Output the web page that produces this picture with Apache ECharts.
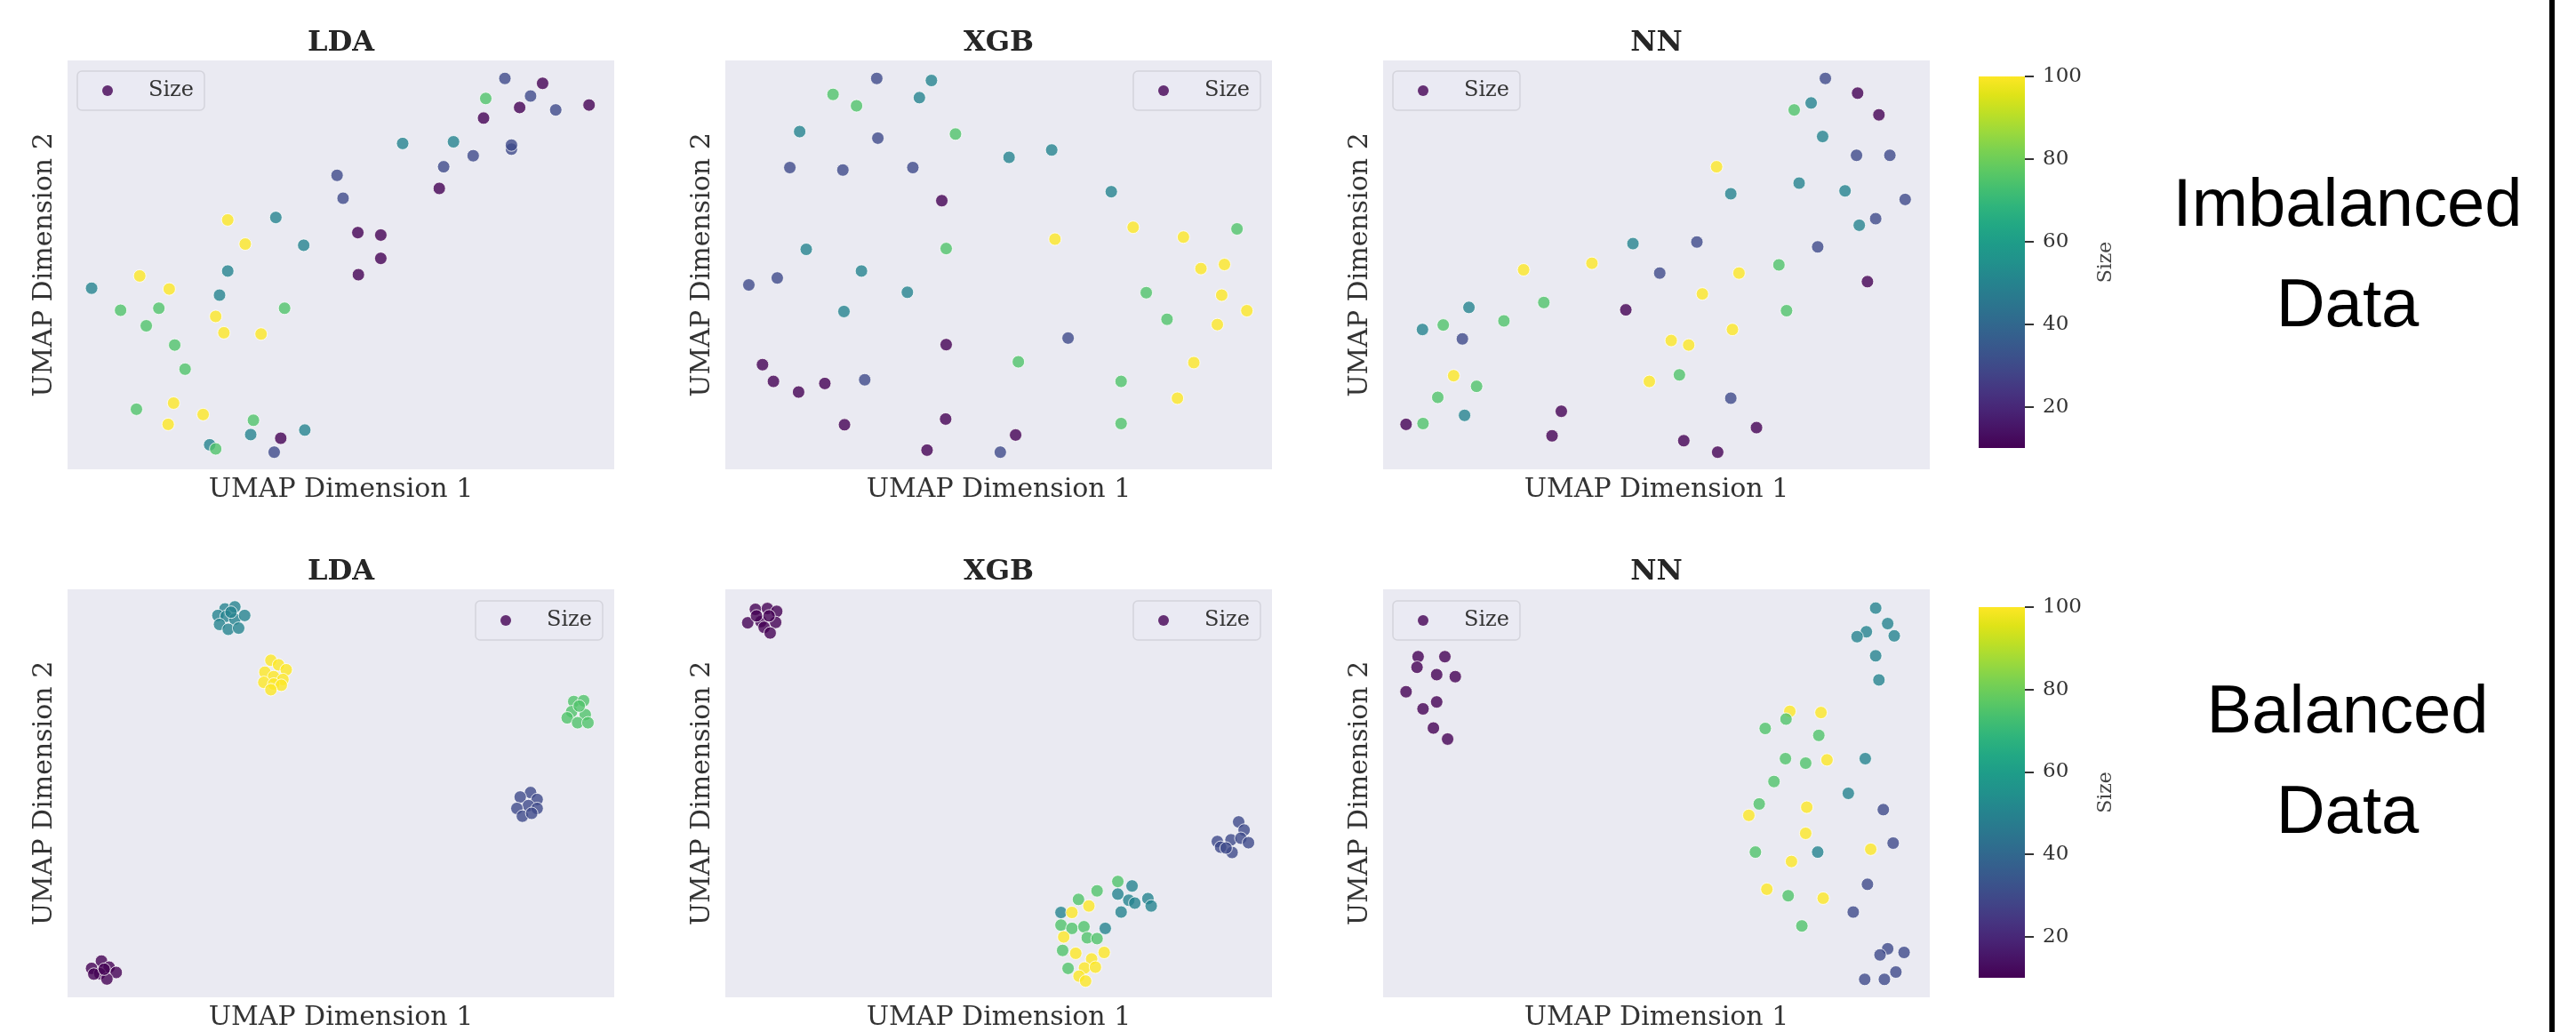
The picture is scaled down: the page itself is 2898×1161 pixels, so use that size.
<!DOCTYPE html>
<html>
<head>
<meta charset="utf-8">
<title>UMAP projections - Imbalanced vs Balanced data</title>
<script src="https://cdn.jsdelivr.net/npm/echarts@6/dist/echarts.min.js"></script>
<style>
  html, body { margin: 0; padding: 0; background: #fff; }
  #chart { width: 2898px; height: 1161px; }
</style>
</head>
<body>
<div id="chart"></div>
<script>
// panel titles, row labels and colorbar ticks
const panelNames = ['LDA', 'XGB', 'NN'];
const rowLabels = ['Imbalanced\nData', 'Balanced\nData'];
const sizeTicks = [20, 40, 60, 80, 100];
const sizeMin = 10;
const sizeMax = 100;
const viridis = ['#440154', '#471365', '#482475', '#463480', '#414487', '#3b528b', '#355f8d',
  '#2f6c8e', '#2a788e', '#25848e', '#21918c', '#1e9c89', '#22a884', '#2fb47c', '#44bf70',
  '#5ec962', '#7ad151', '#9bd93c', '#bddf26', '#dfe318', '#fde725'];

// [UMAP 1, UMAP 2, Size] (axes have no ticks, so 0-100 = panel extent)
const imbalancedLDA = [
  [80.0, 95.6, 30], [86.9, 94.4, 10], [76.5, 90.7, 75], [84.7, 91.3, 30], [82.7, 88.5, 10],
  [89.3, 87.9, 30], [95.4, 89.1, 10], [76.1, 85.9, 10], [61.3, 79.7, 50], [70.6, 80.1, 50],
  [81.2, 78.3, 30], [81.2, 79.3, 30], [74.2, 76.7, 30], [68.8, 74.0, 30], [68.0, 68.7, 10],
  [49.3, 71.9, 30], [50.4, 66.3, 30], [53.1, 57.9, 10], [57.3, 57.3, 10], [57.3, 51.6, 10],
  [53.2, 47.6, 10], [29.3, 61.0, 100], [38.1, 61.6, 50], [32.5, 55.1, 100], [43.2, 54.8, 50],
  [29.3, 48.5, 50], [13.2, 47.3, 100], [4.4, 44.3, 50], [18.6, 44.1, 100], [27.8, 42.6, 50],
  [9.7, 38.9, 75], [16.7, 39.4, 75], [39.7, 39.4, 75], [27.1, 37.4, 100], [14.4, 35.1, 75],
  [28.6, 33.4, 100], [35.4, 33.1, 100], [19.6, 30.4, 75], [21.5, 24.5, 75], [12.6, 14.7, 75],
  [19.4, 16.2, 100], [24.8, 13.4, 100], [18.4, 11.0, 100], [34.0, 12.0, 75], [43.4, 9.6, 50],
  [33.5, 8.5, 50], [39.0, 7.6, 10], [26.0, 6.0, 50], [27.1, 5.0, 75], [37.8, 4.2, 30]
];
const imbalancedXGB = [
  [27.7, 95.6, 30], [37.7, 95.1, 50], [19.7, 91.7, 75], [35.5, 90.9, 50], [24.0, 88.9, 75],
  [13.6, 82.6, 50], [27.9, 81.0, 30], [42.1, 82.0, 75], [11.8, 73.8, 30], [21.5, 73.2, 30],
  [34.3, 73.8, 30], [51.9, 76.3, 50], [59.7, 78.1, 50], [39.6, 65.7, 10], [70.6, 67.9, 50],
  [74.6, 59.2, 100], [60.3, 56.3, 100], [83.8, 56.8, 100], [93.6, 58.8, 75], [14.8, 53.8, 50],
  [40.4, 54.0, 75], [87.0, 49.1, 100], [91.3, 50.1, 100], [24.9, 48.5, 50], [4.3, 45.1, 30],
  [9.5, 46.8, 30], [33.3, 43.3, 50], [77.0, 43.2, 75], [90.8, 42.6, 100], [21.7, 38.6, 50],
  [80.8, 36.7, 75], [95.4, 38.8, 100], [90.0, 35.4, 100], [62.7, 32.1, 30], [40.4, 30.5, 10],
  [53.6, 26.3, 75], [6.8, 25.6, 10], [85.7, 26.1, 100], [8.8, 21.5, 10], [13.4, 18.9, 10],
  [18.2, 21.0, 10], [25.5, 21.9, 30], [72.4, 21.5, 75], [82.7, 17.4, 100], [21.8, 10.9, 10],
  [40.3, 12.3, 10], [72.4, 11.2, 75], [53.1, 8.4, 10], [36.9, 4.7, 10], [50.3, 4.2, 30]
];
const imbalancedNN = [
  [80.9, 95.6, 30], [86.8, 92.0, 10], [78.3, 89.6, 50], [75.2, 87.9, 75], [90.7, 86.7, 10],
  [80.4, 81.4, 50], [86.6, 76.8, 30], [92.7, 76.8, 30], [61.0, 74.0, 100], [63.6, 67.4, 50],
  [76.1, 70.0, 50], [84.5, 68.1, 50], [95.5, 66.0, 30], [90.1, 61.3, 30], [87.1, 59.7, 50],
  [45.7, 55.2, 50], [57.4, 55.6, 30], [79.5, 54.4, 30], [25.7, 48.8, 100], [38.2, 50.4, 100],
  [50.6, 48.0, 30], [65.1, 48.0, 100], [72.4, 50.0, 75], [88.6, 45.9, 10], [58.4, 42.9, 100],
  [29.4, 40.8, 75], [44.4, 39.0, 10], [73.8, 38.8, 75], [15.7, 39.6, 50], [22.1, 36.3, 75],
  [11.0, 35.3, 75], [7.2, 34.2, 50], [14.5, 31.9, 30], [63.9, 34.2, 100], [52.7, 31.5, 100],
  [55.9, 30.4, 100], [12.9, 22.9, 100], [54.2, 23.1, 75], [48.7, 21.5, 100], [17.1, 20.3, 75],
  [10.0, 17.6, 75], [63.6, 17.4, 30], [32.6, 14.2, 10], [14.9, 13.2, 50], [4.2, 11.0, 10],
  [7.3, 11.2, 75], [30.9, 8.2, 10], [68.3, 10.2, 10], [55.0, 7.0, 10], [61.2, 4.2, 10]
];
const balancedLDA = [
  [28.8, 95.2, 50], [30.6, 95.7, 50], [27.5, 93.6, 50], [29.0, 93.4, 50], [30.6, 92.7, 50],
  [32.4, 93.6, 50], [27.8, 91.4, 50], [29.4, 90.2, 50], [31.3, 90.5, 50], [29.9, 94.4, 50],
  [37.2, 82.6, 100], [38.6, 81.5, 100], [40.0, 80.3, 100], [36.1, 79.7, 100], [37.7, 78.6, 100],
  [39.4, 77.9, 100], [35.9, 77.2, 100], [37.7, 76.8, 100], [39.1, 76.5, 100], [37.2, 75.4, 100],
  [92.6, 72.5, 75], [94.4, 72.7, 75], [92.2, 70.0, 75], [94.7, 69.3, 75], [91.4, 68.5, 75],
  [93.3, 67.3, 75], [95.2, 67.3, 75], [93.6, 71.4, 75],
  [84.7, 50.2, 30], [82.8, 49.1, 30], [85.9, 48.5, 30], [84.3, 47.0, 30], [82.2, 46.3, 30],
  [85.9, 46.3, 30], [83.2, 44.4, 30], [84.9, 45.1, 30],
  [6.2, 8.9, 10], [4.4, 7.1, 10], [7.6, 7.4, 10], [5.9, 5.8, 10], [8.9, 6.1, 10],
  [7.2, 4.5, 10], [4.8, 5.7, 10], [6.7, 6.9, 10]
];
const balancedXGB = [
  [5.5, 95.1, 10], [7.7, 95.3, 10], [9.4, 94.6, 10], [4.1, 91.8, 10], [6.5, 92.1, 10],
  [9.2, 91.9, 10], [7.1, 90.7, 10], [8.2, 89.3, 10], [5.7, 93.5, 10], [8.0, 93.5, 10],
  [93.9, 43.0, 30], [94.9, 41.0, 30], [92.5, 38.6, 30], [94.3, 39.0, 30], [95.7, 37.9, 30],
  [90.0, 38.2, 30], [90.6, 36.8, 30], [92.7, 35.5, 30], [91.6, 36.6, 30],
  [71.8, 28.4, 75], [68.0, 26.1, 75], [74.4, 27.3, 50], [71.8, 25.3, 50], [73.8, 23.8, 50],
  [74.9, 23.1, 50], [77.3, 24.2, 50], [77.9, 22.4, 50], [72.4, 20.9, 50], [64.6, 24.0, 75],
  [66.5, 22.4, 100], [61.4, 20.8, 50], [63.4, 20.8, 100], [61.4, 17.7, 75], [63.4, 16.9, 75],
  [65.6, 17.3, 75], [69.5, 16.9, 50], [61.9, 14.8, 100], [66.2, 14.6, 75], [68.0, 14.4, 75],
  [61.7, 11.5, 75], [64.1, 10.8, 100], [69.3, 11.0, 100], [67.0, 9.4, 100], [62.7, 7.1, 75],
  [65.7, 7.2, 100], [67.7, 7.4, 100], [64.7, 5.2, 100], [65.9, 4.0, 100]
];
const balancedNN = [
  [6.4, 83.5, 10], [11.3, 83.5, 10], [6.2, 80.9, 10], [9.8, 79.1, 10], [13.2, 78.6, 10],
  [4.2, 74.9, 10], [9.8, 72.4, 10], [7.3, 70.7, 10], [9.2, 66.0, 10], [11.8, 63.3, 10],
  [90.1, 95.4, 50], [92.3, 91.6, 50], [88.4, 89.6, 50], [86.7, 88.4, 50], [93.5, 88.6, 50],
  [90.1, 83.7, 50], [90.7, 77.8, 50], [74.4, 70.1, 100], [80.1, 69.8, 100], [73.7, 68.2, 75],
  [69.9, 65.9, 75], [79.7, 64.2, 75], [73.6, 58.5, 75], [77.3, 57.4, 75], [81.2, 58.2, 100],
  [88.2, 58.5, 50], [71.5, 52.9, 75], [85.1, 50.0, 50], [68.8, 47.4, 75], [77.5, 46.6, 100],
  [66.9, 44.6, 100], [91.5, 46.0, 30], [77.3, 40.2, 100], [93.3, 37.8, 30], [68.1, 35.6, 75],
  [79.5, 35.6, 50], [89.2, 36.3, 100], [74.7, 33.3, 100], [88.6, 27.7, 30], [70.2, 26.5, 100],
  [74.1, 24.9, 75], [80.5, 24.3, 100], [86.0, 20.9, 30], [76.6, 17.5, 75], [92.3, 11.9, 30],
  [90.9, 10.4, 30], [95.3, 11.0, 30], [93.8, 6.2, 30], [91.7, 4.4, 30], [88.1, 4.4, 30]
];

const panelData = [
  [imbalancedLDA, imbalancedXGB, imbalancedNN],
  [balancedLDA, balancedXGB, balancedNN]
];

// layout (px)
const panelLeft = [76, 816, 1556];
const panelWidth = 615;
const rowTop = [68, 663];
const rowHeight = [460, 462];
const titleTop = [33, 628];
const legendTop = [80, 676];
// legend box left per [row][col] (top-left or top-right corner of the panel)
const legendLeft = [[87, 1275, 1567], [535, 1275, 1567]];
const cbarLeft = 2226;
const cbarWidth = 52;
const cbarTop = [86, 683];
const cbarHeight = [418, 417];
const rowLabelTop = [177, 747];

const serif = 'DejaVu Serif';
const textDark = '#262626';
const textGrey = '#333333';

const grid = [];
const xAxis = [];
const yAxis = [];
const series = [];
const title = [];
const legend = [];
const graphic = [];

for (let r = 0; r < 2; r++) {
  for (let c = 0; c < 3; c++) {
    const k = r * 3 + c;
    grid.push({
      left: panelLeft[c], top: rowTop[r], width: panelWidth, height: rowHeight[r],
      show: true, backgroundColor: '#EAEAF2', borderWidth: 0
    });
    xAxis.push({
      gridIndex: k, type: 'value', min: 0, max: 100,
      axisLine: { show: false }, axisTick: { show: false }, axisLabel: { show: false },
      splitLine: { show: false },
      name: 'UMAP Dimension 1', nameLocation: 'middle', nameGap: 8,
      nameTextStyle: { fontFamily: serif, fontSize: 30, color: textGrey }
    });
    yAxis.push({
      gridIndex: k, type: 'value', min: 0, max: 100,
      axisLine: { show: false }, axisTick: { show: false }, axisLabel: { show: false },
      splitLine: { show: false },
      name: 'UMAP Dimension 2', nameLocation: 'middle', nameGap: 11,
      nameTextStyle: { fontFamily: serif, fontSize: 30, color: textGrey }
    });
    series.push({
      type: 'scatter', name: 'Size', xAxisIndex: k, yAxisIndex: k,
      data: panelData[r][c], symbolSize: 14,
      itemStyle: { borderColor: '#ffffff', borderWidth: 1 }
    });
    title.push({
      text: panelNames[c], left: panelLeft[c] + panelWidth / 2, top: titleTop[r],
      textAlign: 'center', padding: 0,
      textStyle: { fontFamily: serif, fontWeight: 'bold', fontSize: 32, color: textDark }
    });
    legend.push({
      left: legendLeft[r][c], top: legendTop[r], orient: 'vertical',
      selectedMode: false,
      backgroundColor: 'rgba(234,234,242,0.8)', borderColor: '#d4d4dc', borderWidth: 1.5,
      borderRadius: 5, padding: [10, 12, 10, 28],
      itemWidth: 14, itemHeight: 12,
      textStyle: { fontFamily: serif, fontSize: 24, color: textGrey, padding: [0, 0, 0, 34] },
      data: [{ name: 'Size', icon: 'circle', itemStyle: { color: '#440154', borderWidth: 0 } }]
    });
  }
}

// colorbars: gradient strip + tick axis on its right edge (one per row)
const cbarGradient = viridis.map((color, i) => ({ offset: i / (viridis.length - 1), color }));
for (let r = 0; r < 2; r++) {
  const k = 6 + r;
  grid.push({ left: cbarLeft, top: cbarTop[r], width: cbarWidth, height: cbarHeight[r], show: false });
  xAxis.push({ gridIndex: k, type: 'value', min: 0, max: 1, show: false });
  yAxis.push({
    gridIndex: k, type: 'value', min: sizeMin, max: sizeMax, position: 'right', z: 10,
    axisLine: { show: false, onZero: false }, splitLine: { show: false },
    axisTick: { show: true, inside: false, length: 10, customValues: sizeTicks,
      lineStyle: { color: textGrey, width: 2 } },
    axisLabel: { customValues: sizeTicks, margin: 20, fontFamily: serif, fontSize: 23, color: textGrey },
    name: 'Size', nameLocation: 'middle', nameRotate: 90, nameGap: 80,
    nameTextStyle: { fontFamily: serif, fontSize: 22, color: '#444444' }
  });
  graphic.push({
    type: 'rect', z: -1,
    shape: { x: cbarLeft, y: cbarTop[r], width: cbarWidth, height: cbarHeight[r] },
    style: { fill: new echarts.graphic.LinearGradient(0, 1, 0, 0, cbarGradient) }
  });
  title.push({
    text: rowLabels[r], left: 2641, top: rowLabelTop[r], textAlign: 'center', padding: 0,
    textStyle: { fontFamily: 'Liberation Sans', fontWeight: 'normal', fontSize: 76, lineHeight: 113, color: '#000' }
  });
}

// right-hand frame line
graphic.push({
  type: 'rect', shape: { x: 2868, y: 0, width: 6, height: 1161 },
  style: { fill: '#000000' }
});

const visualMap = [0, 1].map(r => ({
  type: 'continuous', show: false, min: sizeMin, max: sizeMax, dimension: 2,
  seriesIndex: [r * 3, r * 3 + 1, r * 3 + 2],
  inRange: { color: viridis }
}));

const chart = echarts.init(document.getElementById('chart'));
chart.setOption({
  animation: false,
  backgroundColor: '#ffffff',
  title, legend, grid, xAxis, yAxis, visualMap, series, graphic
});
</script>
</body>
</html>
